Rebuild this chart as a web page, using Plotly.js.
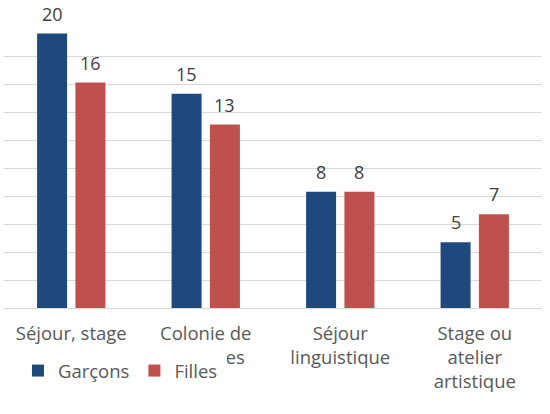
<!DOCTYPE html>
<html>
<head>
<meta charset="utf-8">
<script src="https://cdn.plot.ly/plotly-3.0.1.min.js"></script>
<style>html,body{margin:0;padding:0;background:#fff;}#chart{width:550px;height:414px;}</style>
</head>
<body>
<div id="chart"></div>
<script>
const categories = ["Séjour, stage<br>avec nuitées", "Colonie de<br>vacances", "Séjour<br>linguistique", "Stage ou<br>atelier<br>artistique"];
const garcons = [19.6, 15.3, 8.3, 4.7];
const filles = [16.1, 13.1, 8.3, 6.7];
const garconsLabels = ["20", "15", "8", "5"];
const fillesLabels = ["16", "13", "8", "7"];
const seriesNames = ["Garçons", "Filles"];

const blue = "#1F497D", red = "#C0504D";
const FONT = "'Open Sans', Lato, sans-serif";

const traces = [
  {type: "bar", name: seriesNames[0], x: categories, y: garcons, marker: {color: blue}, hoverinfo: "none"},
  {type: "bar", name: seriesNames[1], x: categories, y: filles, marker: {color: red}, hoverinfo: "none"}
];

const annotations = [];
categories.forEach((c, i) => {
  annotations.push({x: c, y: garcons[i], text: garconsLabels[i], showarrow: false, xref: "x", yref: "y",
    yanchor: "bottom", xshift: -19, yshift: 6, font: {family: FONT, size: 18, color: "#404040"}});
  annotations.push({x: c, y: filles[i], text: fillesLabels[i], showarrow: false, xref: "x", yref: "y",
    yanchor: "bottom", xshift: 19, yshift: 6, font: {family: FONT, size: 18, color: "#404040"}});
});

const layout = {
  width: 550, height: 414,
  margin: {l: 4, r: 8, t: 28, b: 106},
  paper_bgcolor: "#fff", plot_bgcolor: "#fff",
  barmode: "group", bargap: 0.43, bargroupgap: 0.217,
  font: {family: FONT, size: 18.5, color: "#595959"},
  xaxis: {showline: false, ticks: "", ticklabelstandoff: 12, tickfont: {family: FONT, size: 18.5, color: "#595959"}, showgrid: false, zeroline: false},
  yaxis: {range: [0, 20], dtick: 2, showticklabels: false, gridcolor: "#d9d9d9", gridwidth: 1, zeroline: true, zerolinecolor: "#d9d9d9", zerolinewidth: 1, ticks: ""},
  showlegend: true,
  legend: {orientation: "h", x: 0.0185, xanchor: "left", y: -0.143, yanchor: "top", bgcolor: "#ffffff",
    bordercolor: "#ffffff", borderwidth: 4,
    font: {family: FONT, size: 18.5, color: "#595959"}, traceorder: "normal"},
  annotations: annotations
};

Plotly.newPlot("chart", traces, layout, {displayModeBar: false, staticPlot: true});
</script>
</body>
</html>
